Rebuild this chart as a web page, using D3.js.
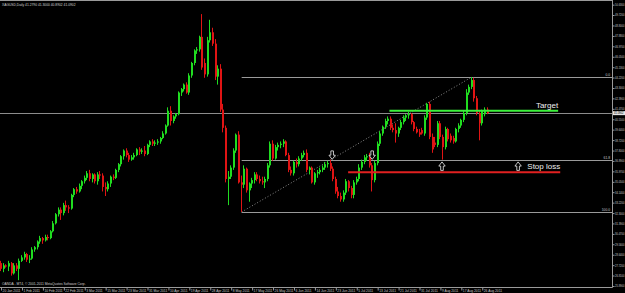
<!DOCTYPE html>
<html>
<head>
<meta charset="utf-8">
<script src="https://cdn.jsdelivr.net/npm/d3@7"></script>
<style>
  html, body { margin: 0; padding: 0; background: #000; overflow: hidden; }
  svg { display: block; }
  text { font-family: "Liberation Sans", Arial, sans-serif; }
</style>
</head>
<body>
<svg width="625" height="293"></svg>
<script>
var svg = d3.select('svg'),
  width = +svg.attr('width'),
  height = +svg.attr('height');

// chart frame (price axis on the right, time axis at the bottom)
var plotRight = 612, plotBottom = 287;

//////////// DATA ////////////

var headerText = 'XAGUSD,Daily  41.2790 41.3000 40.8902 41.0902';
var footerText = 'OANDA - MT4, \u00a9 2001-2011 MetaQuotes Software Corp.';

// daily bars: [open, high, low, close]
var bars = [
  [27.9,28.1,27.2,27.4],[27.4,27.9,27.1,27.7],[27.7,27.8,27.5,27.6],[27.6,28.1,27.2,27.9],
  [27.9,28.0,26.8,27.0],[27.0,27.9,26.9,27.7],[27.7,27.9,27.2,27.4],[27.4,28.3,26.4,28.1],
  [28.1,28.6,28.0,28.4],[28.4,28.9,28.2,28.7],[28.7,28.8,28.0,28.2],[28.2,28.6,27.9,28.3],
  [28.3,29.3,28.2,29.1],[29.1,29.4,28.9,29.3],[29.3,29.9,29.1,29.8],[29.8,30.3,29.6,30.1],
  [30.1,30.2,29.6,29.9],[29.9,30.4,29.8,30.2],[30.2,30.4,29.9,30.1],[30.1,30.8,30.0,30.7],
  [30.7,31.6,30.6,31.4],[31.4,32.3,31.3,32.2],[32.2,32.8,32.0,32.6],[32.6,32.8,31.7,32.3],
  [32.3,33.2,32.1,33.0],[33.0,33.4,32.5,32.8],[32.8,33.0,32.3,32.7],[32.7,34.0,32.6,33.9],
  [33.9,34.5,33.7,34.4],[34.4,34.6,34.0,34.2],[34.2,34.9,34.1,34.7],[34.7,35.2,34.4,35.1],
  [35.1,35.6,34.9,35.4],[35.4,36.0,35.2,35.8],[35.8,36.1,35.1,35.3],[35.3,35.8,35.0,35.7],
  [35.7,35.8,34.9,35.1],[35.1,35.9,34.8,35.7],[35.7,36.0,35.3,35.6],[35.6,35.8,34.2,34.6],
  [34.6,35.0,33.8,34.4],[34.4,35.1,34.2,34.9],[34.9,35.6,34.6,35.5],[35.5,35.7,35.2,35.4],
  [35.4,36.2,35.3,36.1],[36.1,36.7,35.9,36.6],[36.6,37.4,36.4,37.3],[37.3,37.9,37.0,37.8],
  [37.8,38.0,37.2,37.4],[37.4,37.6,36.8,37.0],[37.0,37.4,36.9,37.2],[37.2,37.6,37.0,37.4],
  [37.4,38.0,37.3,37.9],[37.9,38.1,37.4,37.7],[37.7,38.0,37.5,37.8],[37.8,38.2,37.3,37.5],
  [37.5,38.4,37.4,38.3],[38.3,38.7,38.1,38.6],[38.6,38.8,38.2,38.4],[38.4,38.7,38.2,38.5],
  [38.5,38.8,38.3,38.6],[38.6,39.0,38.4,38.9],[38.9,39.5,38.8,39.3],[39.3,40.1,39.2,40.0],
  [40.0,41.6,39.9,41.3],[41.3,41.7,40.0,40.4],[40.4,40.9,40.2,40.8],[40.8,41.1,40.6,41.0],
  [41.0,43.0,40.9,42.9],[42.9,43.3,42.6,43.2],[43.2,43.7,43.0,43.6],[43.6,43.8,42.8,42.9],
  [42.9,44.6,42.7,44.4],[44.4,45.6,44.2,45.5],[45.5,46.7,45.3,46.6],[46.6,46.9,46.3,46.7],
  [46.7,47.9,46.5,47.8],[47.8,49.8,44.9,45.1],[45.5,45.9,44.2,44.5],[44.5,47.8,44.3,47.5],
  [47.5,49.3,47.3,48.2],[48.2,48.6,47.0,47.2],[47.2,47.6,44.0,44.3],[44.3,45.3,43.6,45.0],
  [45.0,45.4,41.2,41.4],[41.4,41.9,39.4,39.8],[39.8,40.0,35.0,35.3],[35.3,36.0,33.0,35.5],
  [35.5,36.5,35.3,36.3],[36.3,38.0,36.1,37.8],[37.8,39.3,37.6,39.2],[39.2,39.5,34.9,35.0],
  [35.0,35.6,32.4,34.8],[34.8,36.5,34.5,36.2],[36.2,36.3,34.1,34.3],[34.3,35.0,33.3,34.9],
  [34.9,35.4,34.5,35.2],[35.2,35.9,34.9,35.7],[35.7,35.9,35.1,35.3],[35.3,35.6,34.9,35.1],
  [35.1,35.5,34.8,35.0],[35.0,35.5,34.5,35.3],[35.3,36.7,35.1,36.5],[36.5,38.6,36.3,38.4],
  [38.4,38.7,36.9,37.1],[37.1,38.3,37.0,38.1],[38.1,38.5,37.8,38.3],[38.3,38.6,38.0,38.4],
  [38.4,38.8,38.1,38.6],[38.6,38.7,37.3,37.4],[37.4,37.6,35.9,36.1],[36.1,36.4,35.6,35.8],
  [35.8,36.9,35.6,36.8],[36.8,37.1,36.3,36.6],[36.6,37.3,36.4,37.1],[37.1,37.6,36.9,37.4],
  [37.4,37.8,37.2,37.6],[37.6,37.9,35.9,36.1],[36.1,36.4,35.7,36.3],[36.3,36.4,34.9,35.0],
  [35.0,35.9,34.8,35.8],[35.8,36.1,35.4,35.9],[35.9,36.3,35.7,36.1],[36.1,36.5,35.9,36.3],
  [36.3,36.8,36.1,36.6],[36.6,36.9,36.3,36.7],[36.7,37.0,36.0,36.2],[36.2,36.4,35.1,35.3],
  [35.3,35.5,34.0,34.2],[34.2,34.6,33.6,33.8],[33.8,34.1,33.3,33.5],[33.5,34.3,33.3,34.1],
  [34.1,35.3,33.9,35.1],[35.1,35.2,34.2,34.5],[34.5,34.7,33.6,33.9],[33.9,35.2,33.6,35.0],
  [35.0,35.5,34.8,35.3],[35.3,36.6,35.1,36.3],[36.3,37.0,36.1,36.8],[36.8,37.4,36.6,37.2],
  [37.2,37.5,36.9,37.3],[37.3,37.6,36.3,36.5],[36.5,36.7,34.2,35.2],[35.2,36.9,35.0,36.7],
  [36.7,38.6,36.5,38.4],[38.4,39.5,38.2,39.3],[39.3,40.0,39.1,39.9],[39.9,40.6,39.7,40.4],
  [40.4,40.8,40.1,40.6],[40.6,40.8,39.6,39.8],[39.8,40.1,39.4,39.6],[39.6,40.2,38.5,39.3],
  [39.3,39.9,39.0,39.8],[39.8,40.5,39.6,40.3],[40.3,40.9,40.1,40.7],[40.7,41.0,40.4,40.9],
  [40.9,41.2,40.6,41.0],[41.0,41.1,40.1,40.3],[40.3,40.4,39.5,39.7],[39.7,39.9,39.3,39.4],
  [39.4,39.7,39.0,39.2],[39.6,39.8,39.2,39.3],[39.3,40.9,39.1,40.7],[40.7,42.0,40.5,41.9],
  [41.9,42.1,38.8,39.0],[39.0,39.3,37.6,37.9],[38.5,39.0,38.1,38.3],[38.3,40.4,38.1,40.2],
  [40.2,40.4,38.8,39.0],[39.0,39.2,37.0,38.1],[38.1,39.9,37.9,39.7],[39.7,39.8,38.6,38.8],
  [39.1,39.3,38.5,38.7],[38.9,39.1,38.4,38.6],[38.6,39.8,38.5,39.7],[39.7,40.2,39.4,40.0],
  [40.0,40.6,39.8,40.5],[40.5,41.3,40.3,41.1],[41.1,43.2,40.9,42.9],[42.9,43.6,42.7,43.4],
  [43.4,44.27,43.2,44.0],[44.0,44.2,42.1,42.4],[42.4,42.6,40.9,41.1],[41.1,41.3,38.7,40.2],
  [40.2,41.4,40.0,41.3],[41.0,41.6,40.8,41.4],[41.4,41.6,41.0,41.09]
];

// one time label every 8 bars
var dateLabels = ['20 Jan 2011', '1 Feb 2011', '10 Feb 2011', '22 Feb 2011', '3 Mar 2011',
  '15 Mar 2011', '23 Mar 2011', '31 Mar 2011', '10 Apr 2011', '19 Apr 2011', '28 Apr 2011',
  '8 May 2011', '17 May 2011', '26 May 2011', '6 Jun 2011', '14 Jun 2011', '23 Jun 2011',
  '5 Jul 2011', '13 Jul 2011', '21 Jul 2011', '31 Jul 2011', '9 Aug 2011', '17 Aug 2011',
  '26 Aug 2011'];
var barsPerLabel = 8;

var priceTicks = [25.89, 26.81, 27.72, 28.64, 29.56, 30.47, 31.39, 32.30, 33.22, 34.14,
  35.05, 35.97, 36.89, 37.80, 38.72, 39.64, 40.55, 41.47, 42.39, 43.30, 44.22, 45.13,
  46.05, 46.97, 47.88, 48.80, 49.72, 50.63];

var bidPrice = 41.0902;
var fibLevels = [0, 61.8, 100];

// hand drawn lines: price, first bar, last bar
var targetLevel = [41.3, 148.5, 213];
var stopLevel = [35.9, 132.7, 213.8];
var downArrowBars = [126.6, 141.9];
var upArrowBars = [168.6, 197.7];

//////////// SCALES ////////////

var x = d3.scaleLinear().domain([-0.4, 233.6]).range([0, plotRight]);
var y = d3.scaleLinear().domain([25.8, 50.6]).range([plotBottom, 5]);

var bullColor = '#20dc20', bearColor = '#e01414', lineGray = '#9a9a9a';
var tiny = '3px';

//////////// FRAME + AXES ////////////

svg.append('rect').attr('width', width).attr('height', height).attr('fill', '#000');

var priceAxis = d3.axisRight(y)
  .tickValues(priceTicks)
  .tickSize(2)
  .tickSizeOuter(0)
  .tickFormat(d3.format('.4f'));

var pa = svg.append('g')
  .attr('transform', 'translate(' + (plotRight + 0.5) + ',0)')
  .call(priceAxis);
pa.select('.domain').remove();
pa.selectAll('line').attr('stroke', lineGray);
pa.selectAll('text')
  .attr('x', 2.5)
  .attr('textLength', 9.5)
  .attr('lengthAdjust', 'spacingAndGlyphs')
  .attr('fill', '#c8c8c8')
  .style('font-size', tiny);

var timeAxis = d3.axisBottom(x)
  .tickValues(dateLabels.map(function (d, k) { return k * barsPerLabel; }))
  .tickSize(3)
  .tickSizeOuter(0)
  .tickFormat(function (d, k) { return dateLabels[k]; });

var ta = svg.append('g')
  .attr('transform', 'translate(0,' + (plotBottom + 0.5) + ')')
  .call(timeAxis);
ta.select('.domain').remove();
ta.selectAll('line').attr('stroke', lineGray);
ta.selectAll('text')
  .attr('y', 2.2)
  .attr('dy', '0.8em')
  .attr('x', 1)
  .attr('text-anchor', 'start')
  .attr('fill', '#c8c8c8')
  .style('font-size', '3.3px');

// frame lines
var frame = svg.append('g').attr('stroke', lineGray).attr('stroke-width', 1);
frame.append('line').attr('x1', 0).attr('x2', plotRight + 0.5).attr('y1', 0.5).attr('y2', 0.5);
frame.append('line').attr('x1', 0).attr('x2', plotRight + 0.5)
  .attr('y1', plotBottom + 0.5).attr('y2', plotBottom + 0.5);
frame.append('line').attr('x1', plotRight + 0.5).attr('x2', plotRight + 0.5)
  .attr('y1', 0).attr('y2', plotBottom + 0.5);

svg.append('text').attr('x', 2).attr('y', 5.5).text(headerText)
  .attr('fill', '#cfcfcf').style('font-size', '3.3px');
svg.append('text').attr('x', 2).attr('y', 285).text(footerText)
  .attr('fill', '#cfcfcf').style('font-size', '3.3px');

//////////// BID LINE ////////////

svg.append('line')
  .attr('x1', 0).attr('x2', plotRight)
  .attr('y1', Math.round(y(bidPrice)) + 0.5).attr('y2', Math.round(y(bidPrice)) + 0.5)
  .attr('stroke', '#8c8c8c');
svg.append('rect')
  .attr('x', plotRight + 1).attr('y', y(bidPrice) - 2)
  .attr('width', 12).attr('height', 4)
  .attr('fill', '#e6e6e6');
svg.append('text')
  .attr('x', plotRight + 2).attr('y', y(bidPrice) + 1.1)
  .attr('textLength', 9.5)
  .attr('lengthAdjust', 'spacingAndGlyphs')
  .text(d3.format('.4f')(bidPrice))
  .attr('fill', '#000').style('font-size', tiny);

//////////// FIBONACCI ////////////

// swing low after the April top, then the highest high after it
var peakIdx = d3.maxIndex(bars, function (d) { return d[1]; });
var lowIdx = peakIdx + d3.minIndex(bars.slice(peakIdx), function (d) { return d[2]; });
var highIdx = lowIdx + d3.maxIndex(bars.slice(lowIdx), function (d) { return d[1]; });
var fibLow = bars[lowIdx][2], fibHigh = bars[highIdx][1];

function fibPrice(level) {
  return fibHigh - (fibHigh - fibLow) * level / 100;
}

var fib = svg.append('g');
fib.selectAll('line.lvl')
  .data(fibLevels)
  .enter()
  .append('line')
  .attr('class', 'lvl')
  .attr('x1', x(lowIdx)).attr('x2', plotRight)
  .attr('y1', function (d) { return Math.round(y(fibPrice(d))) + 0.5; })
  .attr('y2', function (d) { return Math.round(y(fibPrice(d))) + 0.5; })
  .attr('stroke', lineGray);
fib.selectAll('text')
  .data(fibLevels)
  .enter()
  .append('text')
  .attr('x', plotRight - 2)
  .attr('y', function (d) { return y(fibPrice(d)) - 1; })
  .attr('text-anchor', 'end')
  .text(function (d) { return d3.format('.1f')(d); })
  .attr('fill', '#c8c8c8')
  .style('font-size', '3.3px');
fib.append('line')
  .attr('x1', x(lowIdx)).attr('y1', y(fibLow))
  .attr('x2', x(highIdx)).attr('y2', y(fibHigh))
  .attr('stroke', '#8a8a8a')
  .attr('stroke-dasharray', '1,2');

//////////// CANDLES ////////////

var candle = svg.append('g')
  .selectAll('g')
  .data(bars)
  .enter()
  .append('g')
  .attr('fill', function (d) { return d[3] >= d[0] ? bullColor : bearColor; })
  .attr('stroke', function (d) { return d[3] >= d[0] ? bullColor : bearColor; });

candle.append('line')
  .attr('x1', function (d, i) { return Math.round(x(i)) - 0.5; })
  .attr('x2', function (d, i) { return Math.round(x(i)) - 0.5; })
  .attr('y1', function (d) { return y(d[1]); })
  .attr('y2', function (d) { return y(d[2]); })
  .attr('stroke-width', 1);

candle.append('rect')
  .attr('stroke', 'none')
  .attr('x', function (d, i) { return Math.round(x(i)) - 1; })
  .attr('width', 2)
  .attr('y', function (d) { return y(Math.max(d[0], d[3])); })
  .attr('height', function (d) {
    return Math.max(1, Math.abs(y(d[0]) - y(d[3])));
  });

//////////// TRADE LINES ////////////

function tradeLine(level, color, label) {
  var yy = y(level[0]);
  svg.append('line')
    .attr('x1', x(level[1])).attr('x2', x(level[2]))
    .attr('y1', yy).attr('y2', yy)
    .attr('stroke', color)
    .attr('stroke-width', 2);
  svg.append('text')
    .attr('x', x(level[2]))
    .attr('y', yy - 3)
    .attr('text-anchor', 'end')
    .text(label)
    .attr('fill', '#f0f0f0')
    .style('font-size', '8px');
}
tradeLine(targetLevel, '#3cf03c', 'Target');
tradeLine(stopLevel, '#e02020', 'Stop loss');

//////////// ARROWS ////////////

var arrowPath = 'M-1.3,-8.5L1.3,-8.5L1.3,-4.2L3.2,-4.2L0,0L-3.2,-4.2L-1.3,-4.2Z';
var fib618 = y(fibPrice(61.8));

svg.selectAll('path.down')
  .data(downArrowBars)
  .enter()
  .append('path')
  .attr('class', 'down')
  .attr('d', arrowPath)
  .attr('transform', function (d) {
    return 'translate(' + x(d) + ',' + (fib618 - 1) + ')';
  })
  .attr('fill', '#000').attr('stroke', '#f0f0f0').attr('stroke-width', 0.8);

svg.selectAll('path.up')
  .data(upArrowBars)
  .enter()
  .append('path')
  .attr('class', 'up')
  .attr('d', arrowPath)
  .attr('transform', function (d) {
    return 'translate(' + x(d) + ',' + (fib618 + 1.5) + ') rotate(180)';
  })
  .attr('fill', '#000').attr('stroke', '#f0f0f0').attr('stroke-width', 0.8);
</script>
</body>
</html>
